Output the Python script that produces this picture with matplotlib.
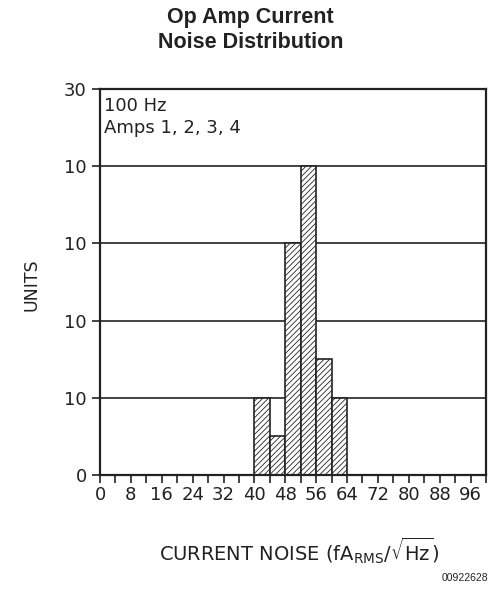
import matplotlib.pyplot as plt

plt.rcParams['font.family'] = ['DejaVu Sans']
plt.rcParams['hatch.linewidth'] = 0.6

# Histogram data (bin left edges and counts)
bin_left = [40, 44, 48, 52, 56, 60]
counts = [6, 3, 18, 24, 9, 6]
bin_width = 4

x_ticks = list(range(0, 97, 8))
x_minor = list(range(0, 101, 4))
y_ticks = [0, 6, 12, 18, 24, 30]
y_labels = ['0', '10', '10', '10', '10', '30']

fig = plt.figure(figsize=(4.91, 5.94), dpi=100)
ax = fig.add_axes([0.2037, 0.2003, 0.7861, 0.6499])

# gridlines first so the bars cover them
for y in y_ticks[1:]:
    ax.axhline(y, color='#222222', linewidth=1.2, zorder=1)

ax.bar(bin_left, counts, width=bin_width, align='edge', color='white',
       edgecolor='#222222', linewidth=1.2, hatch='//////', zorder=2)

ax.set_xlim(0, 100)
ax.set_ylim(0, 30)
ax.set_xticks(x_ticks)
ax.set_xticks(x_minor, minor=True)
ax.set_yticks(y_ticks)
ax.set_yticklabels(y_labels)
ax.tick_params(axis='both', which='both', direction='out', length=6,
               width=1.2, color='#222222', labelsize=13, labelcolor='#222222')
ax.tick_params(axis='x', which='major', pad=2)
for s in ax.spines.values():
    s.set_linewidth(1.6)
    s.set_color('#222222')

ax.text(1.0, 29.4, '100 Hz\nAmps 1, 2, 3, 4', va='top', ha='left',
        fontsize=13, color='#222222', linespacing=1.3)

fig.text(0.51, 0.988, 'Op Amp Current\nNoise Distribution', ha='center', va='top',
         fontsize=15.5, fontweight='bold', family='Liberation Sans',
         color='#222222', linespacing=1.25)
fig.text(0.065, 0.52, 'UNITS', rotation=90, ha='center', va='center',
         fontsize=12.5, color='#222222')
fig.text(0.61, 0.072, r'CURRENT NOISE (fA$_\mathregular{RMS}$/$\sqrt{\mathregular{Hz}}$)',
         ha='center', va='center', fontsize=14, color='#222222')
fig.text(0.995, 0.027, '00922628', ha='right', va='center', fontsize=7.5,
         family='Liberation Sans', color='#222222')

fig.savefig('out.png', dpi=100)
